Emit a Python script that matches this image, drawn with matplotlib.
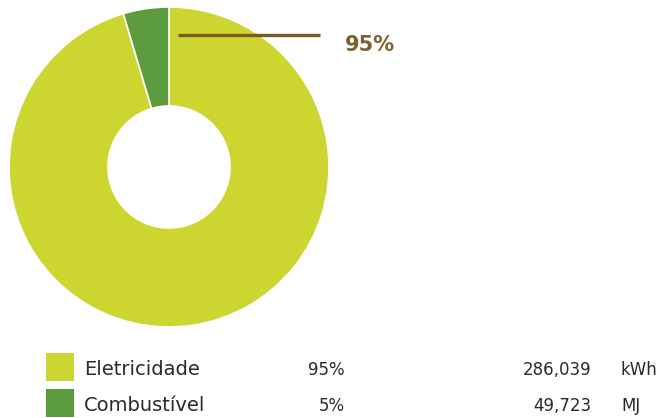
import matplotlib
matplotlib.use('Agg')
import matplotlib.pyplot as plt
from matplotlib.patches import Rectangle

# data
labels = ['Eletricidade', 'Combustível']
shares = [95, 5]                 # shown percentages
amounts = [286039, 49723]        # shown amounts
units = ['kWh', 'MJ']
to_mj = [3.6, 1.0]               # kWh -> MJ so the slices share one unit
colors = ['#CDD630', '#5C9B3D']

energy_mj = [a * f for a, f in zip(amounts, to_mj)]

W, H = 666, 418
fig = plt.figure(figsize=(W / 100, H / 100), dpi=100)
ax = fig.add_axes([0, 0, 1, 1])

# donut
ax.pie(energy_mj, colors=colors, startangle=90, counterclock=False,
       center=(169, 251), radius=160,
       wedgeprops=dict(width=99, edgecolor='white', linewidth=1.2))
ax.set_xlim(0, W)
ax.set_ylim(0, H)
ax.set_aspect('equal')
ax.axis('off')

# callout for the big slice
ax.plot([178, 320], [383, 383], color='#7A5A1E', linewidth=2.4,
        solid_capstyle='butt')
ax.text(345, 367, f'{shares[0]}%', ha='left', va='baseline',
        fontsize=15, fontweight='bold', color='#7F602E',
        family='DejaVu Sans')

# legend table
rows_y = [42.7, 7]
for i, (lab, sh, amt, un) in enumerate(zip(labels, shares, amounts, units)):
    y = rows_y[i]
    ax.add_patch(Rectangle((46, y - 5.5), 28, 28, facecolor=colors[i],
                           edgecolor='none'))
    kw = dict(va='baseline', fontsize=12, color='#2A2A2A', family='DejaVu Sans')
    ax.text(84, y, lab, ha='left', **{**kw, 'fontsize': 14})
    ax.text(345, y, f'{sh}%', ha='right', **kw)
    ax.text(591, y, f'{amt:,}', ha='right', **kw)
    ax.text(621, y, un, ha='left', **kw)

fig.savefig('out.png', dpi=100)
